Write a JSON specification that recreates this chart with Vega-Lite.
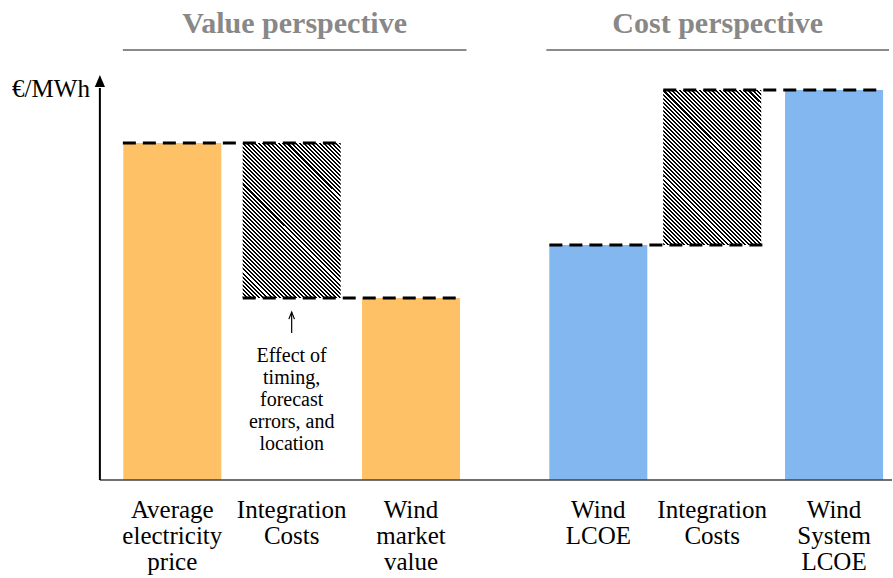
{
  "$schema": "https://vega.github.io/schema/vega-lite/v6.json",
  "width": 893,
  "height": 578,
  "autosize": {"type": "fit", "contains": "padding"},
  "padding": 0,
  "background": "white",
  "config": {"view": {"stroke": null}, "font": "Liberation Serif", "text": {"font": "Liberation Serif"}, "scale": {"continuousPadding": 0}},
  "datasets": {
    "bars": [
      {"label": "Average\nelectricity\nprice", "kind": "solid", "group": "value", "pos": 71.5, "low": 0, "high": 84.25},
      {"label": "Integration\nCosts", "kind": "hatch", "group": "value", "pos": 191, "low": 45.5, "high": 84.25},
      {"label": "Wind\nmarket\nvalue", "kind": "solid", "group": "value", "pos": 310.5, "low": 0, "high": 45.5},
      {"label": "Wind\nLCOE", "kind": "solid", "group": "cost", "pos": 498, "low": 0, "high": 58.75},
      {"label": "Integration\nCosts", "kind": "hatch", "group": "cost", "pos": 612, "low": 58.75, "high": 97.5},
      {"label": "Wind\nSystem\nLCOE", "kind": "solid", "group": "cost", "pos": 734, "low": 0, "high": 97.5}
    ],
    "levels": [
      {"from": 22, "to": 240, "level": 84.25},
      {"from": 142, "to": 360, "level": 45.5},
      {"from": 449, "to": 666, "level": 58.75},
      {"from": 563, "to": 783, "level": 97.5}
    ],
    "groups": [
      {"name": "Value perspective", "start": 22, "end": 366, "mid": 194},
      {"name": "Cost perspective", "start": 446, "end": 789, "mid": 617.5}
    ],
    "note": [
      {"pos": 191, "tail": 36.75, "tip": 41.9, "head": 40.8, "text": "Effect of\ntiming,\nforecast\nerrors, and\nlocation"}
    ],
    "origin": [{"unit": "€/MWh"}]
  },
  "layer": [
    {
      "data": {"name": "bars"},
      "transform": [{"filter": "datum.kind === 'solid'"}],
      "mark": {"type": "bar", "size": 98},
      "encoding": {
        "x": {"field": "pos", "type": "quantitative", "scale": {"domain": [-101, 792], "nice": false, "zero": false, "padding": 0}, "axis": null},
        "y": {"field": "low", "type": "quantitative", "scale": {"domain": [-24.5, 120], "nice": false, "zero": false, "padding": 0}, "axis": null},
        "y2": {"field": "high"},
        "color": {"field": "group", "type": "nominal", "scale": {"domain": ["value", "cost"], "range": ["#FFC166", "#82B7EF"]}, "legend": null}
      }
    },
    {
      "data": {"name": "bars"},
      "transform": [{"filter": "datum.kind === 'hatch'"}],
      "mark": {
        "type": "bar",
        "size": 98,
        "color": {
          "gradient": "linear",
          "x1": 0, "y1": 1, "x2": 0.737, "y2": -0.166,
          "stops": [
            {"offset": 0, "color": "#000"}, {"offset": 0.008, "color": "#000"}, {"offset": 0.008, "color": "#fff"}, {"offset": 0.016, "color": "#fff"},
            {"offset": 0.016, "color": "#000"}, {"offset": 0.024, "color": "#000"}, {"offset": 0.024, "color": "#fff"}, {"offset": 0.032, "color": "#fff"},
            {"offset": 0.032, "color": "#000"}, {"offset": 0.04, "color": "#000"}, {"offset": 0.04, "color": "#fff"}, {"offset": 0.048, "color": "#fff"},
            {"offset": 0.048, "color": "#000"}, {"offset": 0.056, "color": "#000"}, {"offset": 0.056, "color": "#fff"}, {"offset": 0.064, "color": "#fff"},
            {"offset": 0.064, "color": "#000"}, {"offset": 0.072, "color": "#000"}, {"offset": 0.072, "color": "#fff"}, {"offset": 0.08, "color": "#fff"},
            {"offset": 0.08, "color": "#000"}, {"offset": 0.088, "color": "#000"}, {"offset": 0.088, "color": "#fff"}, {"offset": 0.096, "color": "#fff"},
            {"offset": 0.096, "color": "#000"}, {"offset": 0.104, "color": "#000"}, {"offset": 0.104, "color": "#fff"}, {"offset": 0.112, "color": "#fff"},
            {"offset": 0.112, "color": "#000"}, {"offset": 0.12, "color": "#000"}, {"offset": 0.12, "color": "#fff"}, {"offset": 0.128, "color": "#fff"},
            {"offset": 0.128, "color": "#000"}, {"offset": 0.136, "color": "#000"}, {"offset": 0.136, "color": "#fff"}, {"offset": 0.144, "color": "#fff"},
            {"offset": 0.144, "color": "#000"}, {"offset": 0.152, "color": "#000"}, {"offset": 0.152, "color": "#fff"}, {"offset": 0.16, "color": "#fff"},
            {"offset": 0.16, "color": "#000"}, {"offset": 0.168, "color": "#000"}, {"offset": 0.168, "color": "#fff"}, {"offset": 0.176, "color": "#fff"},
            {"offset": 0.176, "color": "#000"}, {"offset": 0.184, "color": "#000"}, {"offset": 0.184, "color": "#fff"}, {"offset": 0.192, "color": "#fff"},
            {"offset": 0.192, "color": "#000"}, {"offset": 0.2, "color": "#000"}, {"offset": 0.2, "color": "#fff"}, {"offset": 0.208, "color": "#fff"},
            {"offset": 0.208, "color": "#000"}, {"offset": 0.216, "color": "#000"}, {"offset": 0.216, "color": "#fff"}, {"offset": 0.224, "color": "#fff"},
            {"offset": 0.224, "color": "#000"}, {"offset": 0.232, "color": "#000"}, {"offset": 0.232, "color": "#fff"}, {"offset": 0.24, "color": "#fff"},
            {"offset": 0.24, "color": "#000"}, {"offset": 0.248, "color": "#000"}, {"offset": 0.248, "color": "#fff"}, {"offset": 0.256, "color": "#fff"},
            {"offset": 0.256, "color": "#000"}, {"offset": 0.264, "color": "#000"}, {"offset": 0.264, "color": "#fff"}, {"offset": 0.272, "color": "#fff"},
            {"offset": 0.272, "color": "#000"}, {"offset": 0.28, "color": "#000"}, {"offset": 0.28, "color": "#fff"}, {"offset": 0.288, "color": "#fff"},
            {"offset": 0.288, "color": "#000"}, {"offset": 0.296, "color": "#000"}, {"offset": 0.296, "color": "#fff"}, {"offset": 0.304, "color": "#fff"},
            {"offset": 0.304, "color": "#000"}, {"offset": 0.312, "color": "#000"}, {"offset": 0.312, "color": "#fff"}, {"offset": 0.32, "color": "#fff"},
            {"offset": 0.32, "color": "#000"}, {"offset": 0.328, "color": "#000"}, {"offset": 0.328, "color": "#fff"}, {"offset": 0.336, "color": "#fff"},
            {"offset": 0.336, "color": "#000"}, {"offset": 0.344, "color": "#000"}, {"offset": 0.344, "color": "#fff"}, {"offset": 0.352, "color": "#fff"},
            {"offset": 0.352, "color": "#000"}, {"offset": 0.36, "color": "#000"}, {"offset": 0.36, "color": "#fff"}, {"offset": 0.368, "color": "#fff"},
            {"offset": 0.368, "color": "#000"}, {"offset": 0.376, "color": "#000"}, {"offset": 0.376, "color": "#fff"}, {"offset": 0.384, "color": "#fff"},
            {"offset": 0.384, "color": "#000"}, {"offset": 0.392, "color": "#000"}, {"offset": 0.392, "color": "#fff"}, {"offset": 0.4, "color": "#fff"},
            {"offset": 0.4, "color": "#000"}, {"offset": 0.408, "color": "#000"}, {"offset": 0.408, "color": "#fff"}, {"offset": 0.416, "color": "#fff"},
            {"offset": 0.416, "color": "#000"}, {"offset": 0.424, "color": "#000"}, {"offset": 0.424, "color": "#fff"}, {"offset": 0.432, "color": "#fff"},
            {"offset": 0.432, "color": "#000"}, {"offset": 0.44, "color": "#000"}, {"offset": 0.44, "color": "#fff"}, {"offset": 0.448, "color": "#fff"},
            {"offset": 0.448, "color": "#000"}, {"offset": 0.456, "color": "#000"}, {"offset": 0.456, "color": "#fff"}, {"offset": 0.464, "color": "#fff"},
            {"offset": 0.464, "color": "#000"}, {"offset": 0.472, "color": "#000"}, {"offset": 0.472, "color": "#fff"}, {"offset": 0.48, "color": "#fff"},
            {"offset": 0.48, "color": "#000"}, {"offset": 0.488, "color": "#000"}, {"offset": 0.488, "color": "#fff"}, {"offset": 0.496, "color": "#fff"},
            {"offset": 0.496, "color": "#000"}, {"offset": 0.504, "color": "#000"}, {"offset": 0.504, "color": "#fff"}, {"offset": 0.512, "color": "#fff"},
            {"offset": 0.512, "color": "#000"}, {"offset": 0.52, "color": "#000"}, {"offset": 0.52, "color": "#fff"}, {"offset": 0.528, "color": "#fff"},
            {"offset": 0.528, "color": "#000"}, {"offset": 0.536, "color": "#000"}, {"offset": 0.536, "color": "#fff"}, {"offset": 0.544, "color": "#fff"},
            {"offset": 0.544, "color": "#000"}, {"offset": 0.552, "color": "#000"}, {"offset": 0.552, "color": "#fff"}, {"offset": 0.56, "color": "#fff"},
            {"offset": 0.56, "color": "#000"}, {"offset": 0.568, "color": "#000"}, {"offset": 0.568, "color": "#fff"}, {"offset": 0.576, "color": "#fff"},
            {"offset": 0.576, "color": "#000"}, {"offset": 0.584, "color": "#000"}, {"offset": 0.584, "color": "#fff"}, {"offset": 0.592, "color": "#fff"},
            {"offset": 0.592, "color": "#000"}, {"offset": 0.6, "color": "#000"}, {"offset": 0.6, "color": "#fff"}, {"offset": 0.608, "color": "#fff"},
            {"offset": 0.608, "color": "#000"}, {"offset": 0.616, "color": "#000"}, {"offset": 0.616, "color": "#fff"}, {"offset": 0.624, "color": "#fff"},
            {"offset": 0.624, "color": "#000"}, {"offset": 0.632, "color": "#000"}, {"offset": 0.632, "color": "#fff"}, {"offset": 0.64, "color": "#fff"},
            {"offset": 0.64, "color": "#000"}, {"offset": 0.648, "color": "#000"}, {"offset": 0.648, "color": "#fff"}, {"offset": 0.656, "color": "#fff"},
            {"offset": 0.656, "color": "#000"}, {"offset": 0.664, "color": "#000"}, {"offset": 0.664, "color": "#fff"}, {"offset": 0.672, "color": "#fff"},
            {"offset": 0.672, "color": "#000"}, {"offset": 0.68, "color": "#000"}, {"offset": 0.68, "color": "#fff"}, {"offset": 0.688, "color": "#fff"},
            {"offset": 0.688, "color": "#000"}, {"offset": 0.696, "color": "#000"}, {"offset": 0.696, "color": "#fff"}, {"offset": 0.704, "color": "#fff"},
            {"offset": 0.704, "color": "#000"}, {"offset": 0.712, "color": "#000"}, {"offset": 0.712, "color": "#fff"}, {"offset": 0.72, "color": "#fff"},
            {"offset": 0.72, "color": "#000"}, {"offset": 0.728, "color": "#000"}, {"offset": 0.728, "color": "#fff"}, {"offset": 0.736, "color": "#fff"},
            {"offset": 0.736, "color": "#000"}, {"offset": 0.744, "color": "#000"}, {"offset": 0.744, "color": "#fff"}, {"offset": 0.752, "color": "#fff"},
            {"offset": 0.752, "color": "#000"}, {"offset": 0.76, "color": "#000"}, {"offset": 0.76, "color": "#fff"}, {"offset": 0.768, "color": "#fff"},
            {"offset": 0.768, "color": "#000"}, {"offset": 0.776, "color": "#000"}, {"offset": 0.776, "color": "#fff"}, {"offset": 0.784, "color": "#fff"},
            {"offset": 0.784, "color": "#000"}, {"offset": 0.792, "color": "#000"}, {"offset": 0.792, "color": "#fff"}, {"offset": 0.8, "color": "#fff"},
            {"offset": 0.8, "color": "#000"}, {"offset": 0.808, "color": "#000"}, {"offset": 0.808, "color": "#fff"}, {"offset": 0.816, "color": "#fff"},
            {"offset": 0.816, "color": "#000"}, {"offset": 0.824, "color": "#000"}, {"offset": 0.824, "color": "#fff"}, {"offset": 0.832, "color": "#fff"},
            {"offset": 0.832, "color": "#000"}, {"offset": 0.84, "color": "#000"}, {"offset": 0.84, "color": "#fff"}, {"offset": 0.848, "color": "#fff"},
            {"offset": 0.848, "color": "#000"}, {"offset": 0.856, "color": "#000"}, {"offset": 0.856, "color": "#fff"}, {"offset": 0.864, "color": "#fff"},
            {"offset": 0.864, "color": "#000"}, {"offset": 0.872, "color": "#000"}, {"offset": 0.872, "color": "#fff"}, {"offset": 0.88, "color": "#fff"},
            {"offset": 0.88, "color": "#000"}, {"offset": 0.888, "color": "#000"}, {"offset": 0.888, "color": "#fff"}, {"offset": 0.896, "color": "#fff"},
            {"offset": 0.896, "color": "#000"}, {"offset": 0.904, "color": "#000"}, {"offset": 0.904, "color": "#fff"}, {"offset": 0.912, "color": "#fff"},
            {"offset": 0.912, "color": "#000"}, {"offset": 0.92, "color": "#000"}, {"offset": 0.92, "color": "#fff"}, {"offset": 0.928, "color": "#fff"},
            {"offset": 0.928, "color": "#000"}, {"offset": 0.936, "color": "#000"}, {"offset": 0.936, "color": "#fff"}, {"offset": 0.944, "color": "#fff"},
            {"offset": 0.944, "color": "#000"}, {"offset": 0.952, "color": "#000"}, {"offset": 0.952, "color": "#fff"}, {"offset": 0.96, "color": "#fff"},
            {"offset": 0.96, "color": "#000"}, {"offset": 0.968, "color": "#000"}, {"offset": 0.968, "color": "#fff"}, {"offset": 0.976, "color": "#fff"},
            {"offset": 0.976, "color": "#000"}, {"offset": 0.984, "color": "#000"}, {"offset": 0.984, "color": "#fff"}, {"offset": 0.992, "color": "#fff"},
            {"offset": 0.992, "color": "#000"}, {"offset": 1, "color": "#000"}
          ]
        }
      },
      "encoding": {
        "x": {"field": "pos", "type": "quantitative", "scale": {"domain": [-101, 792], "nice": false, "zero": false, "padding": 0}, "axis": null},
        "y": {"field": "low", "type": "quantitative", "scale": {"domain": [-24.5, 120], "nice": false, "zero": false, "padding": 0}, "axis": null},
        "y2": {"field": "high"}
      }
    },
    {
      "data": {"name": "levels"},
      "mark": {"type": "rule", "color": "#000", "strokeWidth": 3, "strokeDash": [13, 7], "strokeCap": "butt"},
      "encoding": {
        "x": {"field": "from", "type": "quantitative", "scale": {"domain": [-101, 792], "nice": false, "zero": false, "padding": 0}, "axis": null},
        "x2": {"field": "to"},
        "y": {"field": "level", "type": "quantitative", "scale": {"domain": [-24.5, 120], "nice": false, "zero": false, "padding": 0}, "axis": null}
      }
    },
    {
      "data": {"name": "origin"},
      "mark": {"type": "rule", "color": "#404040", "strokeWidth": 1.5},
      "encoding": {
        "x": {"datum": -1, "type": "quantitative", "scale": {"domain": [-101, 792], "nice": false, "zero": false, "padding": 0}, "axis": null},
        "x2": {"datum": 792},
        "y": {"datum": 0, "type": "quantitative", "scale": {"domain": [-24.5, 120], "nice": false, "zero": false, "padding": 0}, "axis": null}
      }
    },
    {
      "data": {"name": "origin"},
      "mark": {"type": "rule", "color": "#000", "strokeWidth": 2},
      "encoding": {
        "x": {"datum": -1, "type": "quantitative", "scale": {"domain": [-101, 792], "nice": false, "zero": false, "padding": 0}, "axis": null},
        "y": {"datum": 0, "type": "quantitative", "scale": {"domain": [-24.5, 120], "nice": false, "zero": false, "padding": 0}, "axis": null},
        "y2": {"datum": 98}
      }
    },
    {
      "data": {"name": "origin"},
      "mark": {"type": "point", "shape": "M0,-1L0.85,1L-0.85,1Z", "size": 144, "filled": true, "color": "#000", "opacity": 1, "strokeWidth": 0},
      "encoding": {
        "x": {"datum": -1, "type": "quantitative", "scale": {"domain": [-101, 792], "nice": false, "zero": false, "padding": 0}, "axis": null},
        "y": {"datum": 99.75, "type": "quantitative", "scale": {"domain": [-24.5, 120], "nice": false, "zero": false, "padding": 0}, "axis": null}
      }
    },
    {
      "data": {"name": "origin"},
      "mark": {"type": "text", "font": "Liberation Serif", "align": "right", "baseline": "alphabetic", "dx": -10, "fontSize": 25, "color": "#000"},
      "encoding": {
        "x": {"datum": -1, "type": "quantitative", "scale": {"domain": [-101, 792], "nice": false, "zero": false, "padding": 0}, "axis": null},
        "y": {"datum": 95.75, "type": "quantitative", "scale": {"domain": [-24.5, 120], "nice": false, "zero": false, "padding": 0}, "axis": null},
        "text": {"field": "unit"}
      }
    },
    {
      "data": {"name": "bars"},
      "mark": {"type": "text", "font": "Liberation Serif", "align": "center", "baseline": "alphabetic", "dy": 38, "fontSize": 25, "lineHeight": 26, "lineBreak": "\n", "color": "#000"},
      "encoding": {
        "x": {"field": "pos", "type": "quantitative", "scale": {"domain": [-101, 792], "nice": false, "zero": false, "padding": 0}, "axis": null},
        "y": {"datum": 0, "type": "quantitative", "scale": {"domain": [-24.5, 120], "nice": false, "zero": false, "padding": 0}, "axis": null},
        "text": {"field": "label"}
      }
    },
    {
      "data": {"name": "groups"},
      "mark": {"type": "rule", "color": "#8a8a8a", "strokeWidth": 2},
      "encoding": {
        "x": {"field": "start", "type": "quantitative", "scale": {"domain": [-101, 792], "nice": false, "zero": false, "padding": 0}, "axis": null},
        "x2": {"field": "end"},
        "y": {"datum": 107.5, "type": "quantitative", "scale": {"domain": [-24.5, 120], "nice": false, "zero": false, "padding": 0}, "axis": null}
      }
    },
    {
      "data": {"name": "groups"},
      "mark": {"type": "text", "font": "Liberation Serif", "align": "center", "baseline": "alphabetic", "fontSize": 30, "fontWeight": "bold", "color": "#888888"},
      "encoding": {
        "x": {"field": "mid", "type": "quantitative", "scale": {"domain": [-101, 792], "nice": false, "zero": false, "padding": 0}, "axis": null},
        "y": {"datum": 111.75, "type": "quantitative", "scale": {"domain": [-24.5, 120], "nice": false, "zero": false, "padding": 0}, "axis": null},
        "text": {"field": "name"}
      }
    },
    {
      "data": {"name": "note"},
      "mark": {"type": "rule", "color": "#000", "strokeWidth": 1.2},
      "encoding": {
        "x": {"field": "pos", "type": "quantitative", "scale": {"domain": [-101, 792], "nice": false, "zero": false, "padding": 0}, "axis": null},
        "y": {"field": "tail", "type": "quantitative", "scale": {"domain": [-24.5, 120], "nice": false, "zero": false, "padding": 0}, "axis": null},
        "y2": {"field": "tip"}
      }
    },
    {
      "data": {"name": "note"},
      "mark": {"type": "point", "shape": "M-0.6,0.5L0,-1L0.6,0.5", "size": 88, "filled": false, "color": "#000", "opacity": 1, "strokeWidth": 1.2},
      "encoding": {
        "x": {"field": "pos", "type": "quantitative", "scale": {"domain": [-101, 792], "nice": false, "zero": false, "padding": 0}, "axis": null},
        "y": {"field": "head", "type": "quantitative", "scale": {"domain": [-24.5, 120], "nice": false, "zero": false, "padding": 0}, "axis": null}
      }
    },
    {
      "data": {"name": "note"},
      "mark": {"type": "text", "font": "Liberation Serif", "align": "center", "baseline": "alphabetic", "fontSize": 20, "lineHeight": 22, "lineBreak": "\n", "color": "#000"},
      "encoding": {
        "x": {"field": "pos", "type": "quantitative", "scale": {"domain": [-101, 792], "nice": false, "zero": false, "padding": 0}, "axis": null},
        "y": {"datum": 29.5, "type": "quantitative", "scale": {"domain": [-24.5, 120], "nice": false, "zero": false, "padding": 0}, "axis": null},
        "text": {"field": "text"}
      }
    }
  ]
}
